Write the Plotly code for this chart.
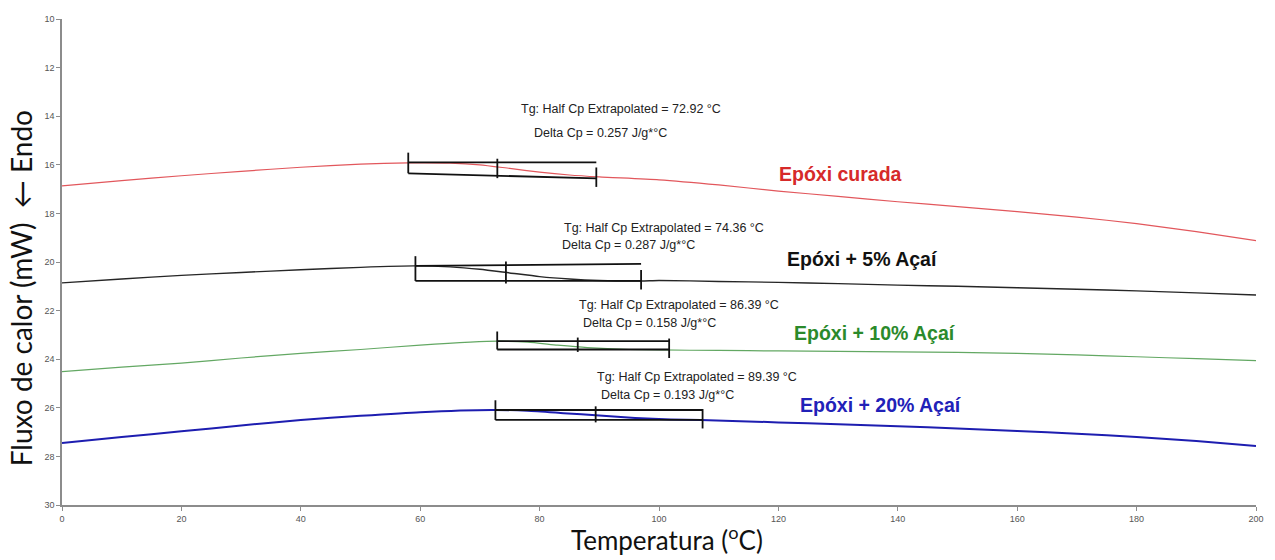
import plotly.graph_objects as go

# DSC heat-flow curves (mW) versus temperature (°C)
temp_cured = [0, 10, 20, 30, 40, 50, 58, 65, 70, 75, 80, 85, 90, 100, 110, 120, 130, 140, 150, 160, 170, 180, 190, 200]
flow_cured = [16.87, 16.65, 16.45, 16.27, 16.1, 15.97, 15.92, 15.93, 16.0, 16.15, 16.3, 16.42, 16.5, 16.62, 16.83, 17.08,
              17.3, 17.52, 17.72, 17.93, 18.15, 18.42, 18.75, 19.12]

temp_5 = [0, 10, 20, 30, 40, 50, 59, 65, 70, 75, 80, 85, 90, 97, 100, 110, 120, 130, 140, 150, 160, 170, 180, 190, 200]
flow_5 = [20.86, 20.7, 20.55, 20.43, 20.32, 20.22, 20.16, 20.2, 20.3, 20.45, 20.6, 20.7, 20.76, 20.78, 20.76, 20.8, 20.84,
          20.89, 20.95, 21.0, 21.06, 21.12, 21.19, 21.27, 21.36]

temp_10 = [0, 10, 20, 30, 40, 50, 60, 73, 78, 83, 88, 95, 100, 110, 120, 130, 140, 150, 160, 170, 180, 190, 200]
flow_10 = [24.51, 24.33, 24.16, 23.95, 23.76, 23.6, 23.42, 23.26, 23.3, 23.42, 23.52, 23.6, 23.62, 23.64, 23.66, 23.68,
           23.7, 23.72, 23.76, 23.82, 23.9, 23.98, 24.06]

temp_20 = [0, 10, 20, 30, 40, 50, 60, 72, 78, 84, 90, 96, 102, 107, 120, 130, 140, 150, 160, 170, 180, 190, 200]
flow_20 = [27.45, 27.2, 26.97, 26.73, 26.5, 26.33, 26.18, 26.09, 26.12, 26.22, 26.32, 26.42, 26.48, 26.5, 26.6, 26.68,
           26.76, 26.85, 26.95, 27.07, 27.2, 27.37, 27.57]

series_names = ["Epóxi curada", "Epóxi + 5% Açaí", "Epóxi + 10% Açaí", "Epóxi + 20% Açaí"]
line_colors = ["#e2575c", "#262626", "#63a863", "#1d1db0"]
label_colors = ["#d62a2a", "#111111", "#2b8a2b", "#2121b8"]
line_widths = [1.2, 1.4, 1.2, 2.0]

# Glass-transition analysis (half Cp extrapolated)
tg_values = [72.92, 74.36, 86.39, 89.39]
delta_cp = [0.257, 0.287, 0.158, 0.193]
onset_temp = [58.0, 59.2, 72.9, 72.6]
end_temp = [89.5, 97.0, 101.7, 107.3]
upper_start = [15.9, 20.16, 23.26, 26.09]
upper_end = [15.9, 20.08, 23.26, 26.09]
lower_start = [16.35, 20.78, 23.6, 26.5]
lower_end = [16.56, 20.78, 23.6, 26.5]

# Text placement (data units)
tg_text_x = [76.5, 83.7, 86.2, 89.2]
tg_text_y = [13.7, 18.6, 21.75, 24.75]
cp_text_x = [78.7, 83.4, 87.0, 89.9]
cp_text_y = [14.68, 19.3, 22.5, 25.47]
name_x = [119.8, 121.1, 122.3, 123.3]
name_y = [16.38, 19.88, 22.92, 25.88]

x_ticks = list(range(0, 201, 20))
y_ticks = list(range(10, 31, 2))

curves = [(temp_cured, flow_cured), (temp_5, flow_5), (temp_10, flow_10), (temp_20, flow_20)]

fig = go.Figure()
for (tx, fy), name, col, w in zip(curves, series_names, line_colors, line_widths):
    fig.add_trace(go.Scatter(x=tx, y=fy, mode="lines", name=name,
                             line=dict(color=col, width=w, shape="spline", smoothing=0.6),
                             showlegend=False, hoverinfo="skip"))

# Baseline extrapolations and onset / Tg / end markers
for i in range(4):
    t1, t2, tg = onset_temp[i], end_temp[i], tg_values[i]
    u1, u2, l1, l2 = upper_start[i], upper_end[i], lower_start[i], lower_end[i]
    frac = (tg - t1) / (t2 - t1)
    u_tg = u1 + (u2 - u1) * frac
    l_tg = l1 + (l2 - l1) * frac
    xs = [t1, t2, None, t1, t2, None,
          t1, t1, None, tg, tg, None, t2, t2]
    ys = [u1, u2, None, l1, l2, None,
          u1 - 0.4, l1, None, u_tg - 0.15, l_tg + 0.1, None, l2 - 0.45, l2 + 0.35]
    fig.add_trace(go.Scatter(x=xs, y=ys, mode="lines", line=dict(color="#111111", width=1.8),
                             showlegend=False, hoverinfo="skip"))

small_font = dict(family="Liberation Sans, Arial", size=12.5, color="#222222")
annots = []
for i in range(4):
    annots.append(dict(x=tg_text_x[i], y=tg_text_y[i], xref="x", yref="y", xanchor="left", yanchor="middle",
                       text=f"Tg: Half Cp Extrapolated = {tg_values[i]:.2f} °C", showarrow=False, font=small_font))
    annots.append(dict(x=cp_text_x[i], y=cp_text_y[i], xref="x", yref="y", xanchor="left", yanchor="middle",
                       text=f"Delta Cp = {delta_cp[i]:.3f} J/g*°C", showarrow=False, font=small_font))
    annots.append(dict(x=name_x[i], y=name_y[i], xref="x", yref="y", xanchor="left", yanchor="middle",
                       text=f"<b>{series_names[i]}</b>", showarrow=False,
                       font=dict(family="Liberation Sans, Arial", size=19.5, color=label_colors[i])))

annots.append(dict(x=671, y=538, xref="paper", yref="paper", xanchor="center", yanchor="middle",
                   text="Temperatura (<sup>o</sup>C)", showarrow=False,
                   font=dict(family="Lato, Open Sans", size=26, color="#111111")))
annots.append(dict(x=21, y=288, xref="paper", yref="paper", xanchor="center", yanchor="middle",
                   text="Fluxo de calor (mW)  ← Endo", showarrow=False,
                   textangle=-90, font=dict(family="Lato, Open Sans", size=28, color="#111111")))

W, H = 1275, 560
L, R, T, B = 62, 11, 19, 55
for a in annots[-2:]:
    a["x"] = (a["x"] - L) / (W - L - R)
    a["y"] = (H - B - a["y"]) / (H - T - B)

fig.update_layout(
    width=W, height=H,
    margin=dict(l=L, r=R, t=T, b=B),
    paper_bgcolor="white", plot_bgcolor="white",
    annotations=annots,
    xaxis=dict(range=[0, 200], tickvals=x_ticks, showgrid=False, zeroline=False,
               showline=True, linecolor="#8c8c8c", linewidth=1.5, ticks="outside", ticklen=4,
               tickcolor="#8c8c8c", tickfont=dict(family="Liberation Sans, Arial", size=9, color="#555555")),
    yaxis=dict(range=[30, 10], tickvals=y_ticks, showgrid=False, zeroline=False,
               showline=True, linecolor="#8c8c8c", linewidth=1.5, ticks="outside", ticklen=4,
               tickcolor="#8c8c8c", tickfont=dict(family="Liberation Sans, Arial", size=9, color="#555555")),
)

fig.write_html("out.html")
